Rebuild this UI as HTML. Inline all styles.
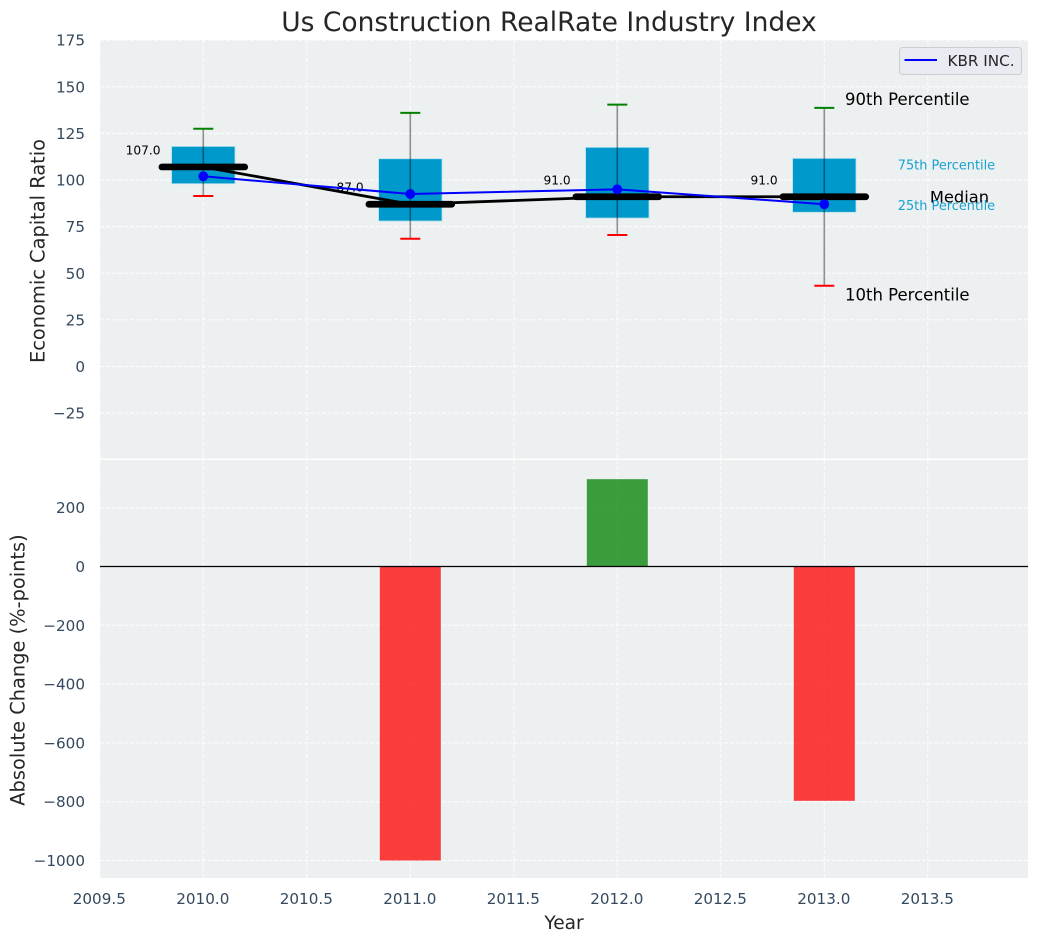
<!DOCTYPE html>
<html lang="en">
<head>
<meta charset="utf-8">
<title>Us Construction RealRate Industry Index</title>
<style>
html,body{margin:0;padding:0;background:#fff;width:1039px;height:942px;overflow:hidden}
svg{display:block;font-family:"DejaVu Sans","Liberation Sans",sans-serif}
</style>
</head>
<body>
<svg id="chart" width="1039" height="942" viewBox="0 0 1039 942" xmlns="http://www.w3.org/2000/svg"></svg>
<script>
const years = [2010, 2011, 2012, 2013];
const p10 = [91.4, 68.5, 70.5, 43.3];
const p25 = [98, 78, 79.6, 82.7];
const medians = [107, 87, 91, 91];
const p75 = [118, 111.4, 117.5, 111.6];
const p90 = [127.5, 136, 140.4, 138.7];
const companyValues = [102, 92.5, 95, 87];
const changeYears = [2011, 2012, 2013];
const changeValues = [-1000, 297, -797];
const xTicks = [2009.5, 2010, 2010.5, 2011, 2011.5, 2012, 2012.5, 2013, 2013.5];
const xTickLabels = ['2009.5', '2010.0', '2010.5', '2011.0', '2011.5', '2012.0', '2012.5', '2013.0', '2013.5'];
const topTicks = [175, 150, 125, 100, 75, 50, 25, 0, -25];
const bottomTicks = [200, 0, -200, -400, -600, -800, -1000];

const svg = document.getElementById('chart');
const NS = 'http://www.w3.org/2000/svg';
const L = 100, R = 1028;
const TOP_Y0 = 40, TOP_Y1 = 458.5, BOT_Y0 = 460, BOT_Y1 = 878;
const xs = v => 203.3 + (v - 2010) * 207;
const yt = v => 366.5 - v * 1.865;
const yb = v => 566.5 - v * 0.294;

function add(tag, attrs, text) {
  const el = document.createElementNS(NS, tag);
  for (const k in attrs) el.setAttribute(k, attrs[k]);
  if (text !== undefined) el.textContent = text;
  svg.appendChild(el);
  return el;
}
function fmt(v) { return v < 0 ? '\u2212' + Math.abs(v) : String(v); }

let el;
el = add('rect', {x: L, y: TOP_Y0, width: R - L, height: TOP_Y1 - TOP_Y0, fill: '#ecf0f1'});


el = add('rect', {x: L, y: BOT_Y0, width: R - L, height: BOT_Y1 - BOT_Y0, fill: '#ecf0f1'});



const gridStyle = {stroke: '#ffffff', 'stroke-width': 1, 'stroke-dasharray': '4 2', 'stroke-opacity': 0.9};
xTicks.forEach((t, i) => {
  el = add('line', Object.assign({x1: xs(t), x2: xs(t), y1: TOP_Y0, y2: TOP_Y1}, gridStyle));
  
  
  el = add('line', Object.assign({x1: xs(t), x2: xs(t), y1: BOT_Y0, y2: BOT_Y1}, gridStyle));
  
  
  el = add('text', {x: xs(t) - 0.5, y: 904, 'text-anchor': 'middle', 'font-size': 15.2, fill: '#34495e'}, xTickLabels[i]);
  
  
});
topTicks.forEach(t => {
  el = add('line', Object.assign({x1: L, x2: R, y1: yt(t), y2: yt(t)}, gridStyle));
  
  
  el = add('text', {x: 85, y: yt(t) + 5.5, 'text-anchor': 'end', 'font-size': 15.2, fill: '#34495e'}, fmt(t));
  
  
});
bottomTicks.forEach(t => {
  el = add('line', Object.assign({x1: L, x2: R, y1: yb(t), y2: yb(t)}, gridStyle));
  
  
  el = add('text', {x: 85, y: yb(t) + 5.5, 'text-anchor': 'end', 'font-size': 15.2, fill: '#34495e'}, fmt(t));
  
  
});

/* value labels sit beneath the lines */
years.forEach((yr, i) => {
  el = add('text', {x: xs(yr - 0.291), y: yt(medians[i]) - 12.5, 'text-anchor': 'middle', 'font-size': 12.2, fill: '#000'}, medians[i].toFixed(1));
  
  
});

/* boxes */
years.forEach((yr, i) => {
  el = add('rect', {x: xs(yr) - 31.7, y: yt(p75[i]), width: 63.4, height: yt(p25[i]) - yt(p75[i]), fill: '#0099cc', stroke: '#b5e0ee', 'stroke-width': 0.8});
  
  
});
/* whiskers */
years.forEach((yr, i) => {
  el = add('line', {x1: xs(yr), x2: xs(yr), y1: yt(p90[i]), y2: yt(p10[i]), stroke: '#000', 'stroke-opacity': 0.42, 'stroke-width': 1.6});
  
  
  el = add('line', {x1: xs(yr) - 10, x2: xs(yr) + 10, y1: yt(p90[i]), y2: yt(p90[i]), stroke: '#008000', 'stroke-width': 2});
  
  
  el = add('line', {x1: xs(yr) - 10, x2: xs(yr) + 10, y1: yt(p10[i]), y2: yt(p10[i]), stroke: '#ff0000', 'stroke-width': 2});
  
  
});

/* median connecting line */
el = add('polyline', {points: years.map((yr, i) => xs(yr) + ',' + yt(medians[i])).join(' '), fill: 'none', stroke: '#000', 'stroke-width': 2.8});


years.forEach((yr, i) => {
  el = add('line', {x1: xs(yr - 0.2), x2: xs(yr + 0.2), y1: yt(medians[i]), y2: yt(medians[i]), stroke: '#000', 'stroke-width': 6.7, 'stroke-linecap': 'round'});
  
  
});

/* company line */
el = add('polyline', {points: years.map((yr, i) => xs(yr) + ',' + yt(companyValues[i])).join(' '), fill: 'none', stroke: '#0000ff', 'stroke-width': 2});


years.forEach((yr, i) => {
  el = add('circle', {cx: xs(yr), cy: yt(companyValues[i]), r: 4.9, fill: '#0000ff'});
  
  
});

/* percentile annotations, anchored on the last year */
const last = years.length - 1;
const lastYear = years[last];
el = add('text', {x: xs(lastYear + 0.1), y: yt(p90[last]) - 3, 'font-size': 16.5, fill: '#000'}, '90th Percentile');


el = add('text', {x: xs(lastYear + 0.1), y: yt(p10[last]) + 14.6, 'font-size': 16.5, fill: '#000'}, '10th Percentile');


el = add('text', {x: xs(lastYear + 0.355), y: yt(p75[last]) + 11, 'font-size': 12.9, fill: '#0099cc', 'fill-opacity': 0.9}, '75th Percentile');


el = add('text', {x: xs(lastYear + 0.355), y: yt(p25[last]) - 2.5, 'font-size': 12.9, fill: '#0099cc', 'fill-opacity': 0.9}, '25th Percentile');


el = add('text', {x: xs(lastYear + 0.51), y: yt(medians[last]) + 5.5, 'font-size': 16.3, fill: '#000'}, 'Median');



/* bottom bars */
changeYears.forEach((yr, i) => {
  const v = changeValues[i];
  el = add('rect', {x: xs(yr) - 30.5, y: Math.min(yb(0), yb(v)), width: 61, height: Math.abs(yb(v) - yb(0)), fill: v < 0 ? '#ff0000' : '#008000', 'fill-opacity': 0.75});
  
  
});
el = add('line', {x1: L, x2: R, y1: yb(0), y2: yb(0), stroke: '#000', 'stroke-width': 1.2});



/* titles */
el = add('text', {x: 549, y: 31, 'text-anchor': 'middle', 'font-size': 26.5, fill: '#262626'}, 'Us Construction RealRate Industry Index');


el = add('text', {x: 564, y: 929, 'text-anchor': 'middle', 'font-size': 18.6, fill: '#262626'}, 'Year');


el = add('text', {transform: 'translate(44.5,251) rotate(-90)', 'text-anchor': 'middle', 'font-size': 19.4, fill: '#262626'}, 'Economic Capital Ratio');


el = add('text', {transform: 'translate(24.5,670) rotate(-90)', 'text-anchor': 'middle', 'font-size': 19.4, fill: '#262626'}, 'Absolute Change (%-points)');



/* legend */
el = add('rect', {x: 899.5, y: 47.5, width: 122, height: 27, rx: 3, fill: '#eaeaf2', stroke: '#cccccc', 'stroke-width': 1});


el = add('line', {x1: 904.5, x2: 937, y1: 60, y2: 60, stroke: '#0000ff', 'stroke-width': 2});


el = add('text', {x: 947.5, y: 66, 'font-size': 15.2, fill: '#262626'}, 'KBR INC.');


</script>
</body>
</html>
